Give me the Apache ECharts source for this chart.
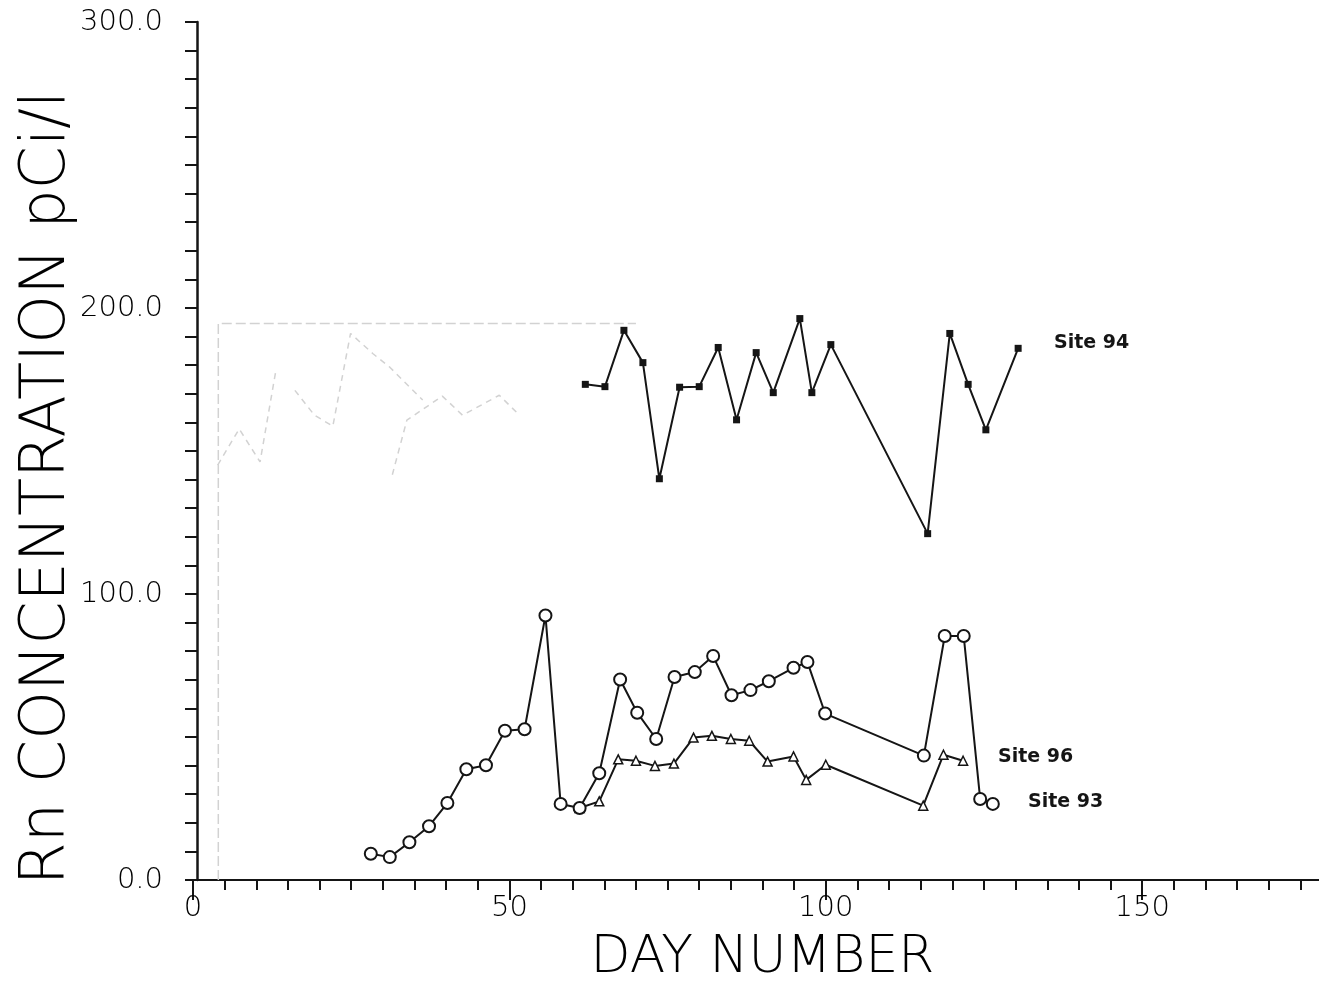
<!DOCTYPE html>
<html>
<head>
<meta charset="utf-8">
<script src="https://cdn.jsdelivr.net/npm/echarts@6/dist/echarts.min.js"></script>
<style>
  html, body { margin: 0; padding: 0; background: #fff; overflow: hidden; }
  #chart { width: 1332px; height: 989px; }
</style>
</head>
<body>
<div id="chart"></div>
<script>
// Site 96 (open circles)
const days96 = [28.1, 31.1, 34.2, 37.3, 40.2, 43.2, 46.3, 49.3, 52.4, 55.7, 58.1, 61.1, 64.2, 67.5, 70.2, 73.2, 76.1, 79.3, 82.2, 85.1, 88.1, 91.0, 94.9, 97.1, 99.9, 115.5, 118.8, 121.8, 124.4, 126.4]
const rn96 = [9.2, 8.0, 13.2, 18.8, 26.9, 38.7, 40.1, 52.2, 52.7, 92.5, 26.6, 25.2, 37.3, 70.1, 58.5, 49.3, 71.0, 72.7, 78.3, 64.6, 66.4, 69.5, 74.2, 76.2, 58.2, 43.5, 85.3, 85.3, 28.3, 26.6]

// Site 93 (open triangles)
const days93 = [61.1, 64.2, 67.2, 70.0, 73.0, 76.0, 79.1, 82.0, 85.0, 87.9, 90.8, 94.9, 96.9, 100.0, 115.4, 118.6, 121.7]
const rn93 = [25.2, 27.5, 42.2, 41.7, 39.9, 40.7, 49.8, 50.4, 49.3, 48.7, 41.4, 43.2, 35.0, 40.3, 26.0, 43.8, 41.7]

// Site 94 (filled markers)
const days94 = [62.0, 65.1, 68.1, 71.1, 73.7, 76.9, 80.0, 83.0, 85.9, 89.0, 91.7, 95.9, 97.8, 100.8, 116.1, 119.6, 122.5, 125.3, 130.4]
const rn94 = [173.3, 172.5, 192.2, 180.9, 140.3, 172.3, 172.5, 186.2, 160.9, 184.4, 170.4, 196.3, 170.4, 187.2, 121.1, 191.1, 173.3, 157.4, 185.9]

// faint show-through from the back of the scanned page
const ghostDaysA = [3.9, 7.3, 10.6, 13.1]
const ghostRnA = [145.1, 157.7, 146.2, 178.2]
const ghostDaysB = [16.1, 19.2, 22.1, 24.9, 28.4, 31.1, 36.3]
const ghostRnB = [171.2, 162.5, 158.7, 191.1, 184.1, 179.3, 167.8]
const ghostDaysC = [31.5, 33.8, 39.4, 42.6, 48.4, 51.6]
const ghostRnC = [141.7, 160.8, 169.2, 162.5, 169.5, 162.5]
const ghostFrameDays = [4.0, 4.0, 70]
const ghostFrameRn = [0, 194.6, 194.6]

const xLabelStep = 50
const yLabelStep = 100

const pairs = (xs, ys) => xs.map((x, i) => [x, ys[i]])

const ink = '#151515'
const font = 'DejaVu Sans'

const chart = echarts.init(document.getElementById('chart'), null, { renderer: 'canvas' })

const ghost = (name, xs, ys, type) => ({
  name,
  type: 'line',
  data: pairs(xs, ys),
  symbol: 'none',
  silent: true,
  z: 1,
  lineStyle: { color: '#d2d2d2', width: 1.5, type: type || [6, 5] },
})

chart.setOption({
  backgroundColor: '#ffffff',
  animation: false,
  grid: { left: 193, right: 0, top: 22, bottom: 105, containLabel: false },
  xAxis: [
    {
      type: 'value',
      min: 0,
      max: 180,
      interval: 5,
      name: 'DAY NUMBER',
      nameLocation: 'middle',
      nameGap: 52,
      nameTextStyle: { fontFamily: font, fontSize: 52, fontWeight: 200, color: '#000' },
      axisLine: { onZero: false, lineStyle: { color: ink, width: 2 } },
      axisTick: { length: 10, lineStyle: { color: ink, width: 2 } },
      axisLabel: {
        margin: 14,
        fontFamily: font,
        fontSize: 29,
        fontWeight: 200,
        color: '#000',
        showMaxLabel: false,
        formatter: (v) => (v % xLabelStep === 0 ? String(v) : ''),
      },
      splitLine: { show: false },
    },
    {
      // longer ticks at the labelled days
      type: 'value',
      position: 'bottom',
      min: 0,
      max: 180,
      interval: xLabelStep,
      axisLine: { show: false },
      axisTick: { length: 20, lineStyle: { color: ink, width: 2 } },
      axisLabel: { show: false },
      splitLine: { show: false },
    },
  ],
  yAxis: {
    type: 'value',
    min: 0,
    max: 300,
    interval: 10,
    offset: -4,
    axisLine: { lineStyle: { color: ink, width: 2.5 } },
    axisTick: { length: 12, lineStyle: { color: ink, width: 2 } },
    axisLabel: {
      margin: 34,
      fontFamily: font,
      fontSize: 29,
      fontWeight: 200,
      color: '#000',
      formatter: (v) => (v % yLabelStep === 0 ? v.toFixed(1) : ''),
    },
    splitLine: { show: false },
  },
  graphic: [
    {
      type: 'text',
      x: 48,
      y: 488,
      rotation: Math.PI / 2,
      style: {
        text: 'Rn CONCENTRATION pCi/l',
        fontFamily: font,
        fontSize: 62,
        fontWeight: 200,
        fill: '#000',
        align: 'center',
        verticalAlign: 'middle',
      },
    },
    { type: 'text', x: 1054, y: 343, style: { text: 'Site 94', fontFamily: font, fontSize: 19, fontWeight: 'bold', fill: ink, verticalAlign: 'middle' } },
    { type: 'text', x: 998, y: 757, style: { text: 'Site 96', fontFamily: font, fontSize: 19, fontWeight: 'bold', fill: ink, verticalAlign: 'middle' } },
    { type: 'text', x: 1028, y: 802, style: { text: 'Site 93', fontFamily: font, fontSize: 19, fontWeight: 'bold', fill: ink, verticalAlign: 'middle' } },
  ],
  series: [
    ghost('ghostFrame', ghostFrameDays, ghostFrameRn, [10, 4]),
    ghost('ghostA', ghostDaysA, ghostRnA),
    ghost('ghostB', ghostDaysB, ghostRnB),
    ghost('ghostC', ghostDaysC, ghostRnC),
    {
      name: 'Site 94',
      type: 'line',
      data: pairs(days94, rn94),
      symbol: 'rect',
      symbolSize: 7,
      itemStyle: { color: ink },
      lineStyle: { color: ink, width: 2 },
      z: 3,
    },
    {
      name: 'Site 93',
      type: 'line',
      data: pairs(days93, rn93),
      symbol: 'triangle',
      symbolSize: 9,
      itemStyle: { color: '#ffffff', borderColor: ink, borderWidth: 1.5 },
      lineStyle: { color: ink, width: 2 },
      z: 3,
    },
    {
      name: 'Site 96',
      type: 'line',
      data: pairs(days96, rn96),
      symbol: 'circle',
      symbolSize: 12,
      showAllSymbol: true,
      itemStyle: { color: '#ffffff', borderColor: ink, borderWidth: 2 },
      lineStyle: { color: ink, width: 2 },
      z: 4,
    },
  ],
})
</script>
</body>
</html>
